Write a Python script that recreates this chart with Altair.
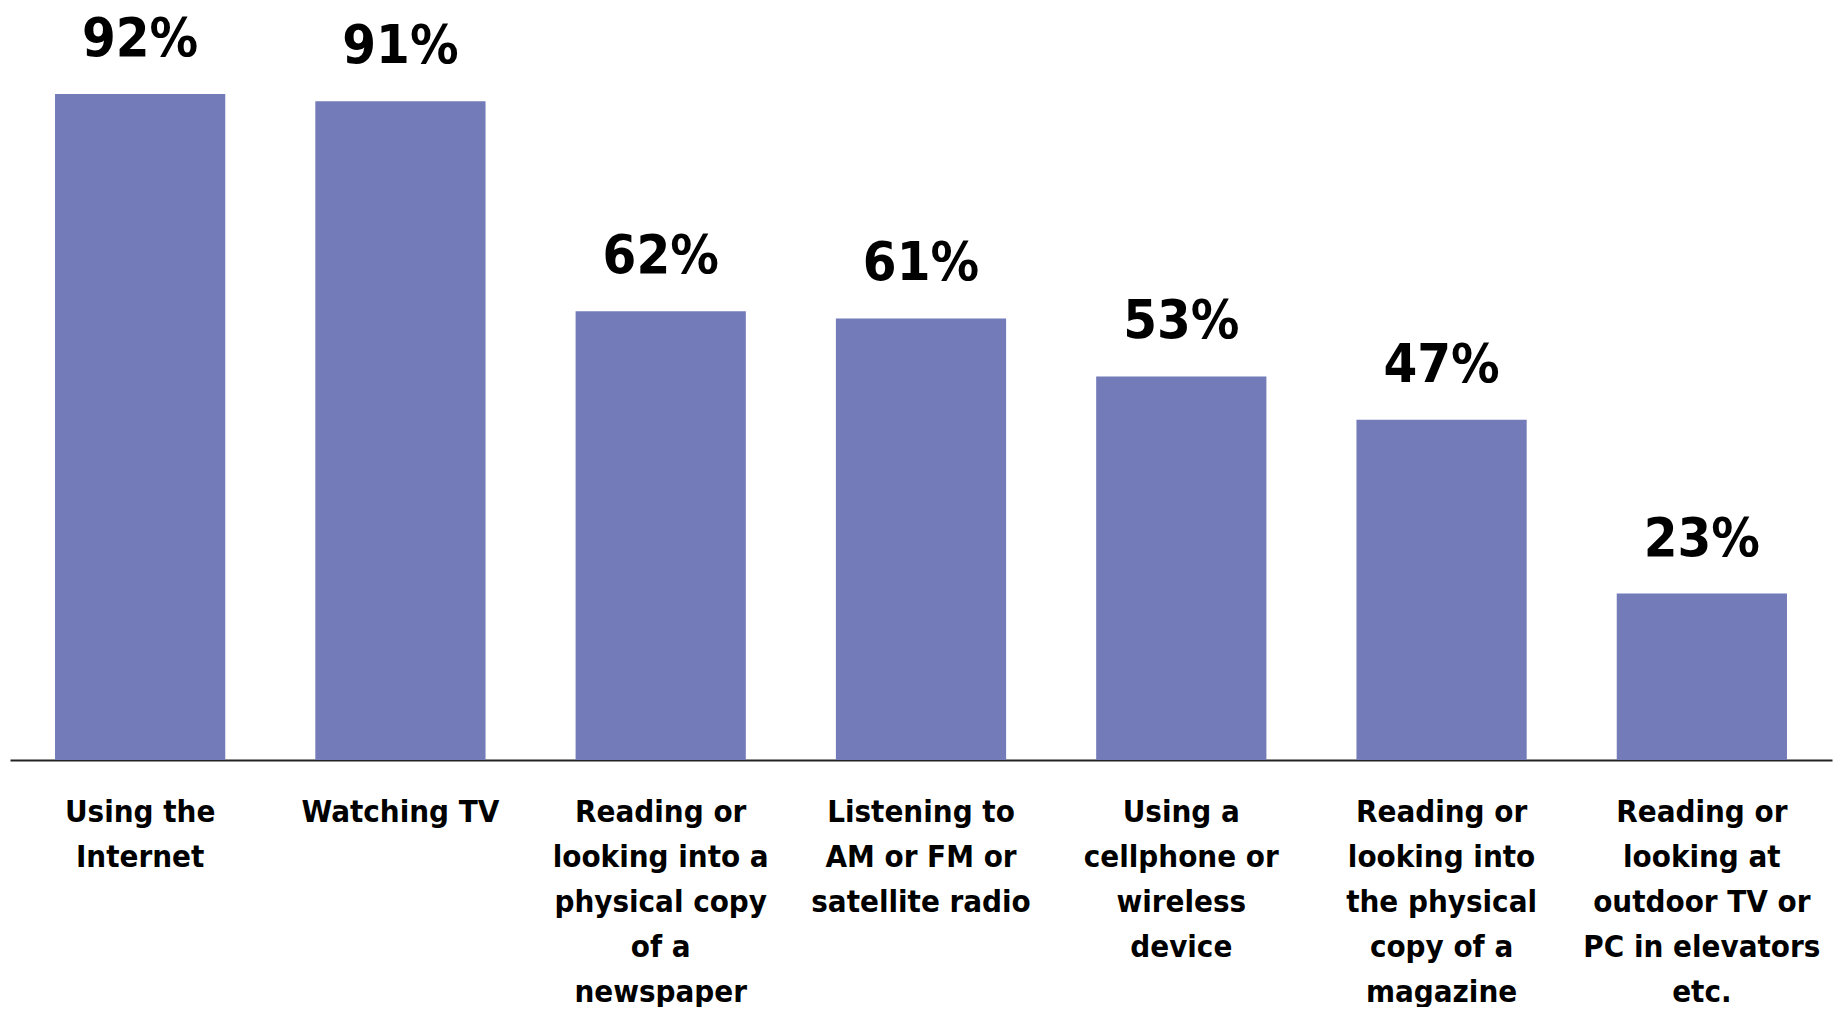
import altair as alt
import pandas as pd

categories = [
    "Using the|Internet",
    "Watching TV",
    "Reading or|looking into a|physical copy|of a|newspaper",
    "Listening to|AM or FM or|satellite radio",
    "Using a|cellphone or|wireless|device",
    "Reading or|looking into|the physical|copy of a|magazine",
    "Reading or|looking at|outdoor TV or|PC in elevators|etc.",
]
values = [92, 91, 62, 61, 53, 47, 23]
value_labels = ["92%", "91%", "62%", "61%", "53%", "47%", "23%"]

df = pd.DataFrame({"cat": categories, "val": values, "lab": value_labels})

FONT = "DejaVu Sans Condensed, Liberation Sans Narrow, DejaVu Sans"

x = alt.X(
    "cat:N",
    sort=categories,
    scale=alt.Scale(paddingInner=0.346, paddingOuter=0.173),
    axis=alt.Axis(
        title=None,
        labelAngle=0,
        labelExpr="split(datum.label, '|')",
        labelFont=FONT,
        labelFontWeight="bold",
        labelFontSize=31,
        labelLineHeight=45,
        labelColor="#000000",
        labelBaseline="top",
        labelPadding=37,
        labelLimit=400,
        ticks=False,
        domainColor="#222222",
        domainWidth=2,
        grid=False,
    ),
)
y = alt.Y("val:Q", scale=alt.Scale(domain=[0, 105]), axis=None)

bars = alt.Chart(df).mark_bar(color="#737bb9").encode(x=x, y=y)
text = alt.Chart(df).mark_text(
    font=FONT, fontWeight="bold", fontSize=54, baseline="alphabetic", dy=-38, color="#000000"
).encode(x=x, y=y, text="lab:N")

chart = (
    alt.layer(bars, text)
    .properties(
        width=1822,
        height=760,
        padding={"left": 10, "top": 0, "right": 11, "bottom": 0},
        view=alt.ViewBackground(stroke="transparent", strokeWidth=0, strokeOpacity=0),
    )
    .configure_view(stroke="transparent", strokeWidth=0, strokeOpacity=0)
    .configure(background="white")
)
chart.save("out.html", embed_options={"renderer": "svg", "actions": False})
